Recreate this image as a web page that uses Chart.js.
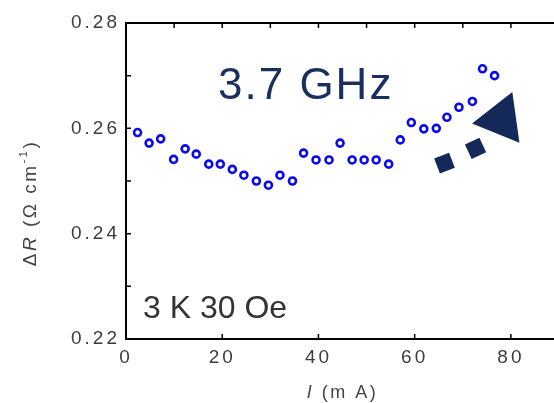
<!DOCTYPE html>
<html>
<head>
<meta charset="utf-8">
<script src="https://cdn.jsdelivr.net/npm/chart.js@4.4.1/dist/chart.umd.min.js"></script>
<style>
html, body { margin: 0; padding: 0; background: #fff; overflow: hidden; width: 554px; height: 403px; }
#wrap { position: absolute; left: 0; top: 0; width: 562px; height: 403px; }
</style>
</head>
<body>
<div id="wrap"><canvas id="chart" width="562" height="403"></canvas></div>
<script>
'use strict';

// current I (mA) and resistance change (Ohm cm^-1)
var currentMA = [2.4, 4.8, 7.2, 9.9, 12.3, 14.6, 17.2, 19.6, 22.1, 24.5, 27.1, 29.6, 32.0, 34.6, 36.9,
  39.5, 42.2, 44.5, 47.0, 49.5, 52.0, 54.6, 57.0, 59.3, 61.9, 64.5, 66.7, 69.2, 72.0, 74.1, 76.6];
var deltaR = [0.2592, 0.2572, 0.2580, 0.2541, 0.2561, 0.2551, 0.2532, 0.2532, 0.2522, 0.2511, 0.2500,
  0.2492, 0.2511, 0.2500, 0.2553, 0.2540, 0.2540, 0.2572, 0.2540, 0.2540, 0.2540, 0.2532, 0.2578,
  0.2611, 0.2599, 0.2600, 0.2621, 0.2640, 0.2651, 0.2713, 0.2700];

var xTickValues = [0, 20, 40, 60, 80];
var xTopTicks = [10, 20, 30, 40, 50, 60, 70, 80];
var yTickValues = [0.22, 0.24, 0.26, 0.28];
var yMinorTicks = [0.23, 0.25, 0.27];

// arrow glyph drawn beside the data: head + two dashes
var arrowHeadX = [78.0];
var arrowHeadY = [0.2617];
var arrowDashX = [66.2, 72.65];
var arrowDashY = [0.2534, 0.2562];

var NAVY = '#14295a';

function pairs(xs, ys) {
  return xs.map(function (x, i) { return { x: x, y: ys[i] }; });
}

function drawRuns(ctx, runs, cx, cy) {
  var total = 0;
  runs.forEach(function (r) {
    ctx.font = r.font;
    r.w = ctx.measureText(r.t).width;
    total += r.w;
  });
  var x = cx - total / 2;
  runs.forEach(function (r) {
    ctx.font = r.font;
    ctx.fillText(r.t, x, cy + (r.dy || 0));
    x += r.w;
  });
}

var framePlugin = {
  id: 'frame',
  beforeDraw: function (chart) {
    chart.ctx.letterSpacing = '3px';   // wide tick labels like the original
  },
  afterDraw: function (chart) {
    var ctx = chart.ctx, a = chart.chartArea;
    var xs = chart.scales.x, ys = chart.scales.y;
    ctx.save();
    ctx.strokeStyle = '#000';
    ctx.lineWidth = 2;
    ctx.strokeRect(a.left, a.top, a.right - a.left, a.bottom - a.top);

    ctx.lineWidth = 1.5;
    ctx.beginPath();
    xTickValues.forEach(function (v) {
      var px = xs.getPixelForValue(v);
      ctx.moveTo(px, a.bottom); ctx.lineTo(px, a.bottom - 5);
    });
    xTopTicks.forEach(function (v) {
      var px = xs.getPixelForValue(v);
      ctx.moveTo(px, a.top); ctx.lineTo(px, a.top + 5);
    });
    yTickValues.concat(yMinorTicks).forEach(function (v) {
      var py = ys.getPixelForValue(v);
      ctx.moveTo(a.left, py); ctx.lineTo(a.left + 5, py);
      ctx.moveTo(a.right, py); ctx.lineTo(a.right - 5, py);
    });
    ctx.stroke();

    // axis titles
    ctx.fillStyle = '#444';
    ctx.textBaseline = 'middle';
    ctx.textAlign = 'left';
    ctx.letterSpacing = '2.5px';
    var f = '19px "Liberation Sans"', fi = 'italic 19px "Liberation Sans"';
    ctx.save();
    ctx.translate(31, 203);
    ctx.rotate(-Math.PI / 2);
    drawRuns(ctx, [
      { t: '\u0394', font: f },
      { t: 'R', font: fi },
      { t: ' (\u03A9 cm', font: f },
      { t: '-1', font: '11px "Liberation Sans"', dy: -7 },
      { t: ')', font: f }
    ], 0, 0);
    ctx.restore();
    drawRuns(ctx, [
      { t: 'I', font: 'italic 18px "Liberation Sans"' },
      { t: ' (m A)', font: '18px "Liberation Sans"' }
    ], (a.left + a.right) / 2, 393);

    // in-plot labels
    ctx.textBaseline = 'alphabetic';
    ctx.letterSpacing = '2px';
    ctx.fillStyle = '#1b2f5e';
    ctx.font = '44px "Liberation Sans"';
    ctx.fillText('3.7 GHz', 218, 99);
    ctx.letterSpacing = '0px';
    ctx.fillStyle = '#333';
    ctx.font = '32px "Liberation Sans"';
    ctx.fillText('3 K 30 Oe', 143, 318);
    ctx.restore();
    ctx.letterSpacing = '0px';
  }
};

new Chart(document.getElementById('chart'), {
  type: 'scatter',
  data: {
    datasets: [
      {
        data: pairs(currentMA, deltaR),
        pointStyle: 'circle',
        pointRadius: 3.5,
        borderWidth: 2.6,
        borderColor: '#0b0bea',
        backgroundColor: '#fff'
      },
      {
        data: pairs(arrowDashX, arrowDashY),
        pointStyle: 'rect',
        pointRadius: 11.3,
        pointRotation: [339, 335],
        borderWidth: 0,
        borderColor: NAVY,
        backgroundColor: NAVY
      },
      {
        data: pairs(arrowHeadX, arrowHeadY),
        pointStyle: 'triangle',
        pointRadius: 29.5,
        pointRotation: 262,
        borderWidth: 0,
        borderColor: NAVY,
        backgroundColor: NAVY
      }
    ]
  },
  options: {
    responsive: false,
    animation: false,
    layout: { autoPadding: false, padding: { top: 23, right: 3, left: 0, bottom: 0 } },
    plugins: { legend: { display: false }, tooltip: { enabled: false } },
    scales: {
      x: {
        type: 'linear',
        min: 0, max: 90,
        grid: { display: false, drawTicks: false },
        ticks: { color: '#3c3c3c', font: { family: 'Liberation Sans', size: 19 }, padding: 7 },
        afterBuildTicks: function (s) { s.ticks = xTickValues.map(function (v) { return { value: v }; }); },
        afterFit: function (s) { s.height = 64; }
      },
      y: {
        min: 0.22, max: 0.28,
        grid: { display: false, drawTicks: false },
        ticks: {
          color: '#3c3c3c', font: { family: 'Liberation Sans', size: 19 }, padding: 6,
          callback: function (v) { return v.toFixed(2); }
        },
        afterBuildTicks: function (s) { s.ticks = yTickValues.map(function (v) { return { value: v }; }); },
        afterFit: function (s) { s.width = 126; }
      }
    }
  },
  plugins: [framePlugin]
});
</script>
</body>
</html>
